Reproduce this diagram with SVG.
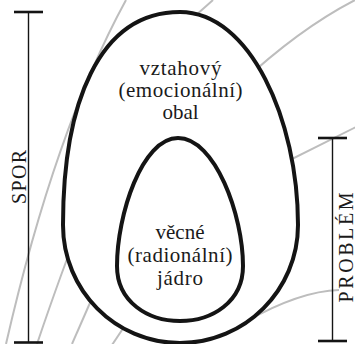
<svg xmlns="http://www.w3.org/2000/svg" width="355" height="344" viewBox="0 0 355 344">
<style>
.g{fill:none;stroke:#bdbdbd;stroke-width:2}
.egg{fill:#fff;stroke:#141414;stroke-width:4}
.t{font-family:"Liberation Serif","Times New Roman",serif;font-size:21px;fill:#1a1a1a;text-anchor:middle}
.bar{stroke:#141414;stroke-width:1.4;fill:none}
.cap{stroke:#141414;stroke-width:2.6;fill:none}
.lab{font-family:"Liberation Serif","Times New Roman",serif;font-size:20px;fill:#1a1a1a;text-anchor:middle}
</style>
<rect width="355" height="344" fill="#fff"/>
<g id="connectors">
<path class="g" d="M126,0 Q55,130 6,344"/>
<path class="g" d="M84,215 Q62,270 37,344"/>
<path class="g" d="M100,280 L72,344"/>
<path class="g" d="M130,318 L112,345"/>
<path class="g" d="M213,0 L195,16"/>
<path class="g" d="M357,-1 Q300,28 240,84"/>
<path class="g" d="M356,127 L270,170"/>
<path class="g" d="M245,322 Q300,291 339,290"/>
</g>
<g id="outer">
<path class="egg" d="M180,12 C250,12 298,120 298,225 C298,290 245,343 180,343 C115,343 63,290 63,225 C63,105 98,12 180,12 Z"/>
<text class="t" x="180.5" y="74.5" textLength="82" lengthAdjust="spacing">vztahový</text>
<text class="t" x="180.5" y="96.5" textLength="124" lengthAdjust="spacing">(emocionální)</text>
<text class="t" x="180.5" y="118.5">obal</text>
</g>
<g id="inner">
<path class="egg" d="M178,138 C215,138 243,215 243,266 C243,302 212,321 180,321 C148,321 117,302 117,266 C117,215 142,138 178,138 Z"/>
<text class="t" x="180" y="238.5">věcné</text>
<text class="t" x="180" y="261.5" textLength="105" lengthAdjust="spacing">(radionální)</text>
<text class="t" x="180" y="284.5" textLength="46" lengthAdjust="spacing">jádro</text>
</g>
<g id="spor">
<line class="bar" x1="28.5" y1="12" x2="28.5" y2="342.5"/>
<line class="cap" x1="14" y1="12" x2="43" y2="12"/>
<line class="cap" x1="14" y1="342.5" x2="43" y2="342.5"/>
<text class="lab" transform="translate(25.5,177) rotate(-90)" textLength="54" lengthAdjust="spacing">SPOR</text>
</g>
<g id="problem">
<line class="bar" x1="332.5" y1="138" x2="332.5" y2="341"/>
<line class="cap" x1="318" y1="138" x2="347" y2="138"/>
<line class="cap" x1="318" y1="341" x2="347" y2="341"/>
<text class="lab" transform="translate(352.5,247.5) rotate(-90)" textLength="110" lengthAdjust="spacing">PROBLÉM</text>
</g>
</svg>
